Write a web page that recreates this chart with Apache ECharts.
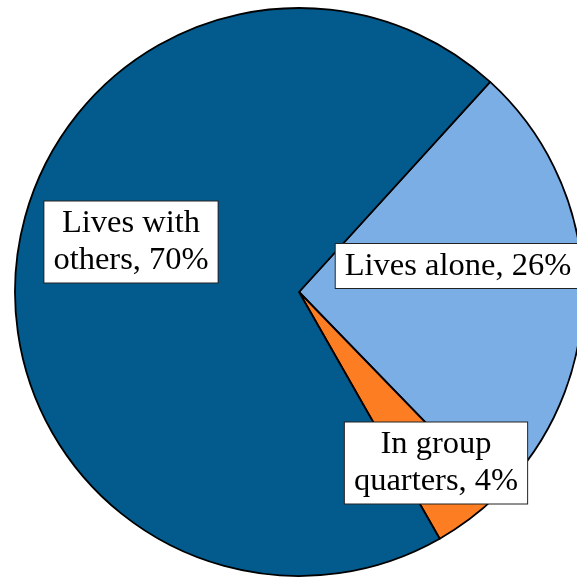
<!DOCTYPE html>
<html>
<head>
<meta charset="utf-8">
<script src="https://cdn.jsdelivr.net/npm/echarts@6/dist/echarts.min.js"></script>
<style>
html,body{margin:0;padding:0;background:#fff;}
#c{width:577px;height:582px;}
</style>
</head>
<body>
<div id="c"></div>
<script>
// Data
const categories = ['Lives alone', 'In group\nquarters', 'Lives with\nothers'];
const values = [26, 4, 70];

// Styles / layout (not data)
const colors = ['#7AAEE5', '#FD7E22', '#035A8C'];
const labelPos = [[458, 266], [436, 463], [131, 242]];

const chart = echarts.init(document.getElementById('c'), null, {renderer: 'canvas'});
chart.setOption({
  animation: false,
  series: [{
    type: 'pie',
    center: [299, 292],
    radius: [0, 284],
    startAngle: 47.7,
    clockwise: true,
    avoidLabelOverlap: false,
    data: categories.map((n, i) => ({
      name: n,
      value: values[i],
      itemStyle: {color: colors[i]}
    })),
    itemStyle: {borderColor: '#000', borderWidth: 1.8},
    label: {
      show: true,
      position: 'inside',
      formatter: p => p.name + ', ' + p.value + '%',
      fontFamily: 'Liberation Serif',
      fontSize: 32.5,
      lineHeight: 37,
      color: '#000',
      backgroundColor: '#fff',
      borderColor: '#222',
      borderWidth: 1,
      padding: [5, 9, 2, 9],
      align: 'center'
    },
    labelLine: {show: false},
    labelLayout: p => ({
      x: labelPos[p.dataIndex][0],
      y: labelPos[p.dataIndex][1],
      align: 'center',
      verticalAlign: 'middle'
    })
  }]
});
</script>
</body>
</html>
